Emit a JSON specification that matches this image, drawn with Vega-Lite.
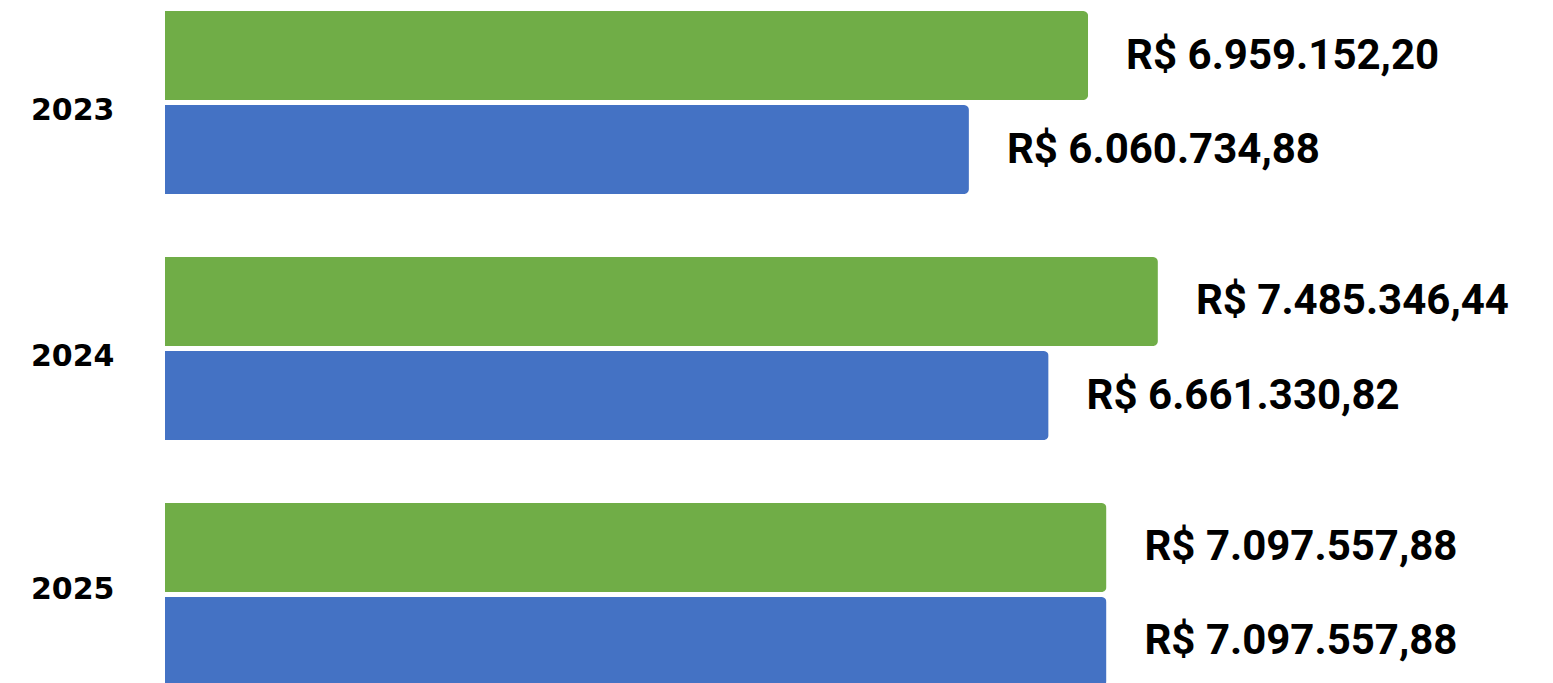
{
  "$schema": "https://vega.github.io/schema/vega-lite/v6.json",
  "autosize": "none",
  "padding": {"left": 165, "top": 0, "right": 0, "bottom": 0},
  "width": 1388,
  "height": 697,
  "background": "white",
  "config": {"view": {"stroke": null}},
  "data": {
    "values": [
      {"ano": "2023", "serie": "Orçado", "valor": 6959152.20, "rotulo": "R$ 6.959.152,20"},
      {"ano": "2023", "serie": "Realizado", "valor": 6060734.88, "rotulo": "R$ 6.060.734,88"},
      {"ano": "2024", "serie": "Orçado", "valor": 7485346.44, "rotulo": "R$ 7.485.346,44"},
      {"ano": "2024", "serie": "Realizado", "valor": 6661330.82, "rotulo": "R$ 6.661.330,82"},
      {"ano": "2025", "serie": "Orçado", "valor": 7097557.88, "rotulo": "R$ 7.097.557,88"},
      {"ano": "2025", "serie": "Realizado", "valor": 7097557.88, "rotulo": "R$ 7.097.557,88"}
    ]
  },
  "encoding": {
    "y": {
      "field": "ano", "type": "nominal",
      "scale": {"paddingInner": 0.256, "paddingOuter": 0.0447},
      "axis": {"title": null, "domain": false, "ticks": false, "labelFont": "DejaVu Sans", "labelFontWeight": "bold", "labelFontSize": 30, "labelColor": "black", "labelPadding": 51,
        "labelOffset": {"condition": {"test": "datum.value === '2025'", "value": -4}, "value": 8}}
    },
    "yOffset": {"field": "serie", "type": "nominal", "sort": ["Orçado", "Realizado"], "scale": {"paddingInner": 0.053, "paddingOuter": 0}},
    "x": {"field": "valor", "type": "quantitative", "scale": {"domain": [0, 10464000], "nice": false}, "axis": null}
  },
  "layer": [
    {
      "mark": {"type": "bar", "cornerRadiusEnd": 5},
      "encoding": {
        "color": {"field": "serie", "type": "nominal", "scale": {"domain": ["Orçado", "Realizado"], "range": ["#70AD47", "#4472C4"]}, "legend": null}
      }
    },
    {
      "mark": {"type": "text", "align": "left", "baseline": "middle", "dx": 38, "font": "Roboto", "fontWeight": "bold", "fontSize": 42, "color": "black"},
      "encoding": {"text": {"field": "rotulo"}}
    }
  ]
}
